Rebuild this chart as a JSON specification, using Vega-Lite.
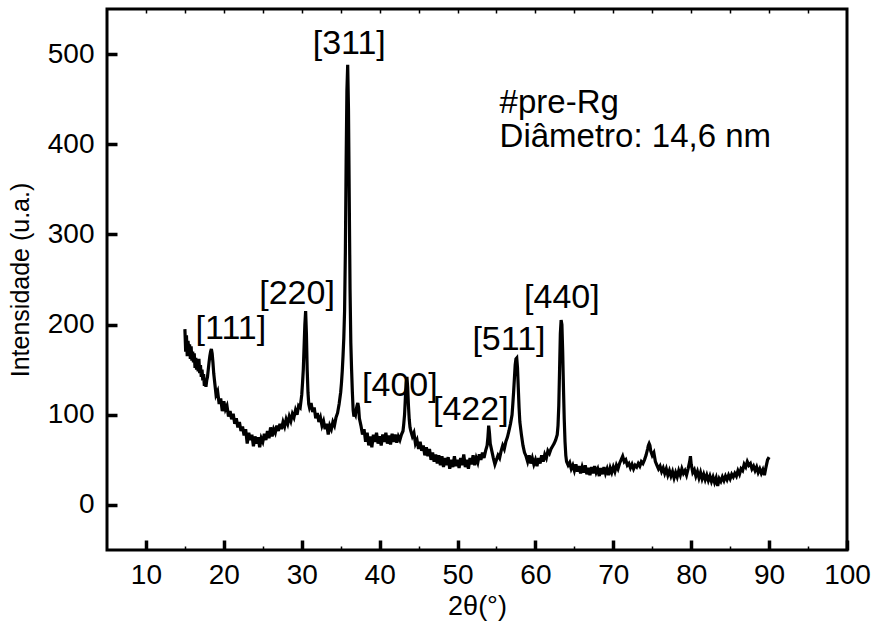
{
  "$schema": "https://vega.github.io/schema/vega-lite/v6.json",
  "width": 740,
  "height": 541,
  "autosize": {"type": "none"},
  "padding": {"left": 107, "top": 9, "right": 28, "bottom": 78},
  "background": "white",
  "config": {
    "view": {"stroke": "black", "strokeWidth": 3},
    "font": "Liberation Sans",
    "axis": {"grid": false, "ticks": true, "domainColor": "black", "tickColor": "black", "labelColor": "black", "titleColor": "black", "labelFont": "Liberation Sans", "titleFont": "Liberation Sans", "titleFontWeight": "normal"}
  },
  "datasets": {
    "xrd": [
      {"x":15.0,"y":195},{"x":15.1,"y":170},{"x":15.2,"y":188},{"x":15.3,"y":165},{"x":15.4,"y":182},{"x":15.5,"y":172},{"x":15.6,"y":178},{"x":15.7,"y":162},{"x":15.8,"y":176},{"x":15.9,"y":160},
      {"x":16.0,"y":170},{"x":16.1,"y":158},{"x":16.2,"y":168},{"x":16.3,"y":152},{"x":16.4,"y":163},{"x":16.5,"y":150},{"x":16.6,"y":160},{"x":16.7,"y":148},{"x":16.8,"y":162},{"x":16.9,"y":146},
      {"x":17.0,"y":155},{"x":17.1,"y":142},{"x":17.2,"y":150},{"x":17.3,"y":138},{"x":17.4,"y":145},{"x":17.5,"y":132},{"x":17.6,"y":140},{"x":17.7,"y":131},{"x":17.8,"y":138},{"x":17.9,"y":142},
      {"x":18.0,"y":150},{"x":18.1,"y":158},{"x":18.2,"y":165},{"x":18.3,"y":170},{"x":18.4,"y":173},{"x":18.5,"y":168},{"x":18.6,"y":158},{"x":18.7,"y":146},{"x":18.8,"y":138},{"x":18.9,"y":130},
      {"x":19.0,"y":122},{"x":19.2,"y":126},{"x":19.4,"y":112},{"x":19.6,"y":118},{"x":19.8,"y":104},{"x":20.0,"y":115},{"x":20.2,"y":106},{"x":20.4,"y":110},{"x":20.6,"y":98},{"x":20.8,"y":104},
      {"x":21.0,"y":95},{"x":21.2,"y":101},{"x":21.4,"y":90},{"x":21.6,"y":96},{"x":21.8,"y":86},{"x":22.0,"y":92},{"x":22.2,"y":82},{"x":22.4,"y":87},{"x":22.6,"y":77},{"x":22.8,"y":84},
      {"x":23.0,"y":68},{"x":23.2,"y":80},{"x":23.4,"y":72},{"x":23.6,"y":78},{"x":23.8,"y":65},{"x":24.0,"y":76},{"x":24.2,"y":68},{"x":24.4,"y":75},{"x":24.6,"y":64},{"x":24.8,"y":74},
      {"x":25.0,"y":70},{"x":25.2,"y":79},{"x":25.4,"y":72},{"x":25.6,"y":82},{"x":25.8,"y":74},{"x":26.0,"y":86},{"x":26.2,"y":76},{"x":26.4,"y":84},{"x":26.6,"y":80},{"x":26.8,"y":88},
      {"x":27.0,"y":82},{"x":27.2,"y":90},{"x":27.4,"y":84},{"x":27.6,"y":92},{"x":27.8,"y":87},{"x":28.0,"y":95},{"x":28.2,"y":90},{"x":28.4,"y":98},{"x":28.6,"y":93},{"x":28.8,"y":101},
      {"x":29.0,"y":97},{"x":29.2,"y":105},{"x":29.4,"y":100},{"x":29.6,"y":110},{"x":29.8,"y":108},{"x":29.9,"y":115},{"x":30.0,"y":122},{"x":30.1,"y":135},{"x":30.2,"y":150},{"x":30.3,"y":175},
      {"x":30.4,"y":200},{"x":30.5,"y":215},{"x":30.6,"y":190},{"x":30.7,"y":150},{"x":30.8,"y":125},{"x":30.9,"y":112},{"x":31.0,"y":108},{"x":31.2,"y":113},{"x":31.4,"y":103},{"x":31.6,"y":108},
      {"x":31.8,"y":96},{"x":32.0,"y":102},{"x":32.2,"y":92},{"x":32.4,"y":97},{"x":32.6,"y":88},{"x":32.8,"y":93},{"x":33.0,"y":84},{"x":33.2,"y":90},{"x":33.4,"y":78},{"x":33.6,"y":88},
      {"x":33.8,"y":84},{"x":34.0,"y":92},{"x":34.2,"y":88},{"x":34.4,"y":97},{"x":34.6,"y":102},{"x":34.8,"y":112},{"x":35.0,"y":125},{"x":35.1,"y":135},{"x":35.2,"y":148},{"x":35.3,"y":165},
      {"x":35.4,"y":185},{"x":35.5,"y":215},{"x":35.6,"y":280},{"x":35.7,"y":380},{"x":35.8,"y":460},{"x":35.9,"y":488},{"x":36.0,"y":440},{"x":36.1,"y":340},{"x":36.2,"y":240},{"x":36.3,"y":180},
      {"x":36.4,"y":150},{"x":36.5,"y":125},{"x":36.6,"y":105},{"x":36.7,"y":98},{"x":36.8,"y":102},{"x":36.9,"y":100},{"x":37.0,"y":106},{"x":37.1,"y":110},{"x":37.2,"y":113},{"x":37.3,"y":108},
      {"x":37.4,"y":96},{"x":37.6,"y":88},{"x":37.8,"y":78},{"x":38.0,"y":84},{"x":38.2,"y":70},{"x":38.4,"y":80},{"x":38.6,"y":66},{"x":38.8,"y":76},{"x":39.0,"y":64},{"x":39.2,"y":78},
      {"x":39.4,"y":70},{"x":39.6,"y":80},{"x":39.8,"y":68},{"x":40.0,"y":76},{"x":40.2,"y":66},{"x":40.4,"y":78},{"x":40.6,"y":70},{"x":40.8,"y":80},{"x":41.0,"y":68},{"x":41.2,"y":77},
      {"x":41.4,"y":67},{"x":41.6,"y":79},{"x":41.8,"y":70},{"x":42.0,"y":78},{"x":42.2,"y":69},{"x":42.4,"y":76},{"x":42.6,"y":72},{"x":42.8,"y":78},{"x":43.0,"y":82},{"x":43.1,"y":90},
      {"x":43.2,"y":100},{"x":43.3,"y":118},{"x":43.4,"y":135},{"x":43.5,"y":142},{"x":43.6,"y":130},{"x":43.7,"y":110},{"x":43.8,"y":95},{"x":43.9,"y":86},{"x":44.0,"y":82},{"x":44.2,"y":76},
      {"x":44.4,"y":80},{"x":44.6,"y":68},{"x":44.8,"y":72},{"x":45.0,"y":62},{"x":45.2,"y":70},{"x":45.4,"y":60},{"x":45.6,"y":66},{"x":45.8,"y":55},{"x":46.0,"y":64},{"x":46.2,"y":54},
      {"x":46.4,"y":62},{"x":46.6,"y":50},{"x":46.8,"y":58},{"x":47.0,"y":48},{"x":47.2,"y":56},{"x":47.4,"y":46},{"x":47.6,"y":55},{"x":47.8,"y":44},{"x":48.0,"y":54},{"x":48.2,"y":42},
      {"x":48.4,"y":52},{"x":48.6,"y":44},{"x":48.8,"y":53},{"x":49.0,"y":40},{"x":49.2,"y":50},{"x":49.4,"y":42},{"x":49.6,"y":54},{"x":49.8,"y":43},{"x":50.0,"y":50},{"x":50.2,"y":41},
      {"x":50.4,"y":52},{"x":50.6,"y":44},{"x":50.8,"y":56},{"x":51.0,"y":42},{"x":51.2,"y":50},{"x":51.4,"y":40},{"x":51.6,"y":52},{"x":51.8,"y":45},{"x":52.0,"y":55},{"x":52.2,"y":44},
      {"x":52.4,"y":52},{"x":52.6,"y":47},{"x":52.8,"y":56},{"x":53.0,"y":50},{"x":53.2,"y":58},{"x":53.4,"y":52},{"x":53.6,"y":60},{"x":53.8,"y":66},{"x":53.9,"y":75},{"x":54.0,"y":88},
      {"x":54.1,"y":80},{"x":54.2,"y":68},{"x":54.4,"y":60},{"x":54.6,"y":52},{"x":54.8,"y":45},{"x":55.0,"y":50},{"x":55.2,"y":55},{"x":55.4,"y":52},{"x":55.6,"y":60},{"x":55.8,"y":66},
      {"x":56.0,"y":62},{"x":56.2,"y":70},{"x":56.4,"y":75},{"x":56.6,"y":82},{"x":56.8,"y":90},{"x":57.0,"y":100},{"x":57.1,"y":112},{"x":57.2,"y":125},{"x":57.3,"y":140},{"x":57.4,"y":155},
      {"x":57.5,"y":162},{"x":57.6,"y":163},{"x":57.7,"y":152},{"x":57.8,"y":130},{"x":57.9,"y":108},{"x":58.0,"y":92},{"x":58.2,"y":78},{"x":58.4,"y":66},{"x":58.6,"y":58},{"x":58.8,"y":54},
      {"x":59.0,"y":48},{"x":59.2,"y":55},{"x":59.4,"y":46},{"x":59.6,"y":52},{"x":59.8,"y":45},{"x":60.0,"y":50},{"x":60.2,"y":43},{"x":60.4,"y":52},{"x":60.6,"y":46},{"x":60.8,"y":55},
      {"x":61.0,"y":48},{"x":61.2,"y":56},{"x":61.4,"y":52},{"x":61.6,"y":60},{"x":61.8,"y":57},{"x":62.0,"y":62},{"x":62.2,"y":65},{"x":62.4,"y":68},{"x":62.6,"y":72},{"x":62.8,"y":78},
      {"x":62.9,"y":88},{"x":63.0,"y":110},{"x":63.1,"y":150},{"x":63.2,"y":190},{"x":63.3,"y":205},{"x":63.4,"y":200},{"x":63.5,"y":170},{"x":63.6,"y":130},{"x":63.7,"y":95},{"x":63.8,"y":70},
      {"x":63.9,"y":55},{"x":64.0,"y":48},{"x":64.2,"y":44},{"x":64.4,"y":47},{"x":64.6,"y":40},{"x":64.8,"y":44},{"x":65.0,"y":38},{"x":65.2,"y":45},{"x":65.4,"y":37},{"x":65.6,"y":43},
      {"x":65.8,"y":35},{"x":66.0,"y":42},{"x":66.2,"y":36},{"x":66.4,"y":44},{"x":66.6,"y":34},{"x":66.8,"y":41},{"x":67.0,"y":33},{"x":67.2,"y":42},{"x":67.4,"y":35},{"x":67.6,"y":43},
      {"x":67.8,"y":36},{"x":68.0,"y":40},{"x":68.2,"y":32},{"x":68.4,"y":41},{"x":68.6,"y":34},{"x":68.8,"y":42},{"x":69.0,"y":35},{"x":69.2,"y":40},{"x":69.4,"y":33},{"x":69.6,"y":41},
      {"x":69.8,"y":36},{"x":70.0,"y":42},{"x":70.2,"y":37},{"x":70.4,"y":44},{"x":70.6,"y":40},{"x":70.8,"y":46},{"x":71.0,"y":50},{"x":71.2,"y":54},{"x":71.4,"y":48},{"x":71.6,"y":50},
      {"x":71.8,"y":44},{"x":72.0,"y":46},{"x":72.2,"y":41},{"x":72.4,"y":45},{"x":72.6,"y":40},{"x":72.8,"y":44},{"x":73.0,"y":42},{"x":73.2,"y":46},{"x":73.4,"y":43},{"x":73.6,"y":48},
      {"x":73.8,"y":46},{"x":74.0,"y":50},{"x":74.2,"y":55},{"x":74.4,"y":62},{"x":74.5,"y":66},{"x":74.6,"y":68},{"x":74.7,"y":66},{"x":74.8,"y":60},{"x":75.0,"y":55},{"x":75.2,"y":58},
      {"x":75.4,"y":48},{"x":75.6,"y":44},{"x":75.8,"y":40},{"x":76.0,"y":43},{"x":76.2,"y":37},{"x":76.4,"y":41},{"x":76.6,"y":35},{"x":76.8,"y":40},{"x":77.0,"y":33},{"x":77.2,"y":38},
      {"x":77.4,"y":32},{"x":77.6,"y":37},{"x":77.8,"y":30},{"x":78.0,"y":36},{"x":78.2,"y":31},{"x":78.4,"y":38},{"x":78.6,"y":33},{"x":78.8,"y":40},{"x":79.0,"y":35},{"x":79.2,"y":38},
      {"x":79.4,"y":33},{"x":79.6,"y":40},{"x":79.8,"y":48},{"x":79.9,"y":54},{"x":80.0,"y":45},{"x":80.2,"y":36},{"x":80.4,"y":39},{"x":80.6,"y":32},{"x":80.8,"y":37},{"x":81.0,"y":30},
      {"x":81.2,"y":36},{"x":81.4,"y":29},{"x":81.6,"y":34},{"x":81.8,"y":28},{"x":82.0,"y":33},{"x":82.2,"y":27},{"x":82.4,"y":32},{"x":82.6,"y":26},{"x":82.8,"y":31},{"x":83.0,"y":25},
      {"x":83.2,"y":30},{"x":83.4,"y":21},{"x":83.6,"y":29},{"x":83.8,"y":26},{"x":84.0,"y":31},{"x":84.2,"y":27},{"x":84.4,"y":32},{"x":84.6,"y":28},{"x":84.8,"y":33},{"x":85.0,"y":29},
      {"x":85.2,"y":34},{"x":85.4,"y":31},{"x":85.6,"y":35},{"x":85.8,"y":32},{"x":86.0,"y":38},{"x":86.2,"y":34},{"x":86.4,"y":40},{"x":86.6,"y":38},{"x":86.8,"y":45},{"x":87.0,"y":42},
      {"x":87.2,"y":48},{"x":87.4,"y":44},{"x":87.6,"y":46},{"x":87.8,"y":40},{"x":88.0,"y":43},{"x":88.2,"y":38},{"x":88.4,"y":42},{"x":88.6,"y":36},{"x":88.8,"y":40},{"x":89.0,"y":35},
      {"x":89.2,"y":39},{"x":89.4,"y":33},{"x":89.6,"y":42},{"x":89.8,"y":50},{"x":90.0,"y":53}
    ],
    "peaks": [
      {"label":"[111]","x":20.9,"y":195},
      {"label":"[220]","x":29.4,"y":234},
      {"label":"[311]","x":36.1,"y":511},
      {"label":"[400]","x":42.6,"y":132},
      {"label":"[422]","x":51.7,"y":105},
      {"label":"[511]","x":56.6,"y":183},
      {"label":"[440]","x":63.4,"y":229}
    ],
    "notes": [
      {"label":"#pre-Rg","x":55.4,"y":446},
      {"label":"Diâmetro: 14,6 nm","x":55.4,"y":408}
    ]
  },
  "resolve": {"axis": {"x": "independent", "y": "independent"}},
  "layer": [
    {
      "data": {"name": "xrd"},
      "mark": {"type": "line", "color": "black", "strokeWidth": 3.2, "clip": true},
      "encoding": {
        "x": {"field": "x", "type": "quantitative",
              "scale": {"domain": [5, 100], "nice": false, "zero": false},
              "axis": {"orient": "bottom", "title": "2θ(°)", "values": [10,20,30,40,50,60,70,80,90,100],
                       "offset": -10, "ticks": true, "tickSize": 10, "tickWidth": 3.5, "tickColor": "black", "tickOpacity": 1, "domain": false, "labelFontSize": 28, "labelPadding": 11,
                       "titleFontSize": 27, "titlePadding": 4, "labelFlush": false}},
        "y": {"field": "y", "type": "quantitative",
              "scale": {"domain": [-50, 550], "nice": false, "zero": false},
              "axis": {"orient": "left", "title": "Intensidade (u.a.)", "values": [0,100,200,300,400,500],
                       "offset": -10, "ticks": true, "tickSize": 10, "tickWidth": 3.5, "tickColor": "black", "tickOpacity": 1, "domain": false, "labelFontSize": 28, "labelPadding": 13,
                       "titleFontSize": 25, "titlePadding": 14, "labelFlush": false}}
      }
    },
    {
      "data": {"name": "peaks"},
      "mark": {"type": "text", "fontSize": 34, "font": "Liberation Sans", "color": "black", "align": "center", "baseline": "middle"},
      "encoding": {
        "x": {"field": "x", "type": "quantitative",
              "axis": {"orient": "top", "title": null, "labels": false, "domain": false, "values": [10,15,20,25,30,35,40,45,50,55,60,65,70,75,80,85,90,95],
                       "offset": -4, "ticks": true, "tickSize": 4, "tickWidth": 1.5}},
        "y": {"field": "y", "type": "quantitative", "axis": null},
        "text": {"field": "label"}
      }
    },
    {
      "data": {"name": "notes"},
      "mark": {"type": "text", "fontSize": 33, "font": "Liberation Sans", "color": "black", "align": "left", "baseline": "middle"},
      "encoding": {
        "x": {"field": "x", "type": "quantitative",
              "axis": {"orient": "bottom", "title": null, "labels": false, "domain": false, "values": [15,25,35,45,55,65,75,85,95],
                       "offset": -4, "ticks": true, "tickSize": 4, "tickWidth": 1.5}},
        "y": {"field": "y", "type": "quantitative", "axis": null},
        "text": {"field": "label"}
      }
    }
  ]
}
